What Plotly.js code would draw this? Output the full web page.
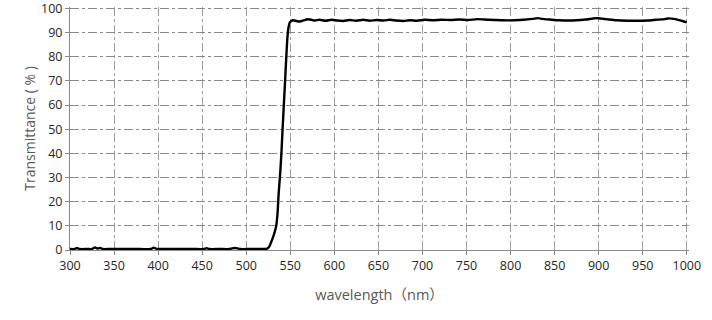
<!DOCTYPE html>
<html>
<head>
<meta charset="utf-8">
<script src="https://cdn.plot.ly/plotly-3.0.1.min.js"></script>
<style>html,body{margin:0;padding:0;background:#fff;}#chart{width:712px;height:320px;}</style>
</head>
<body>
<div id="chart"></div>
<script>
// wavelength (nm)
const wavelength = [300,305,308,311,320,325,327,329,331,333,335,337,345,360,380,392,395,398,402,420,440,452,455,458,470,481,484,487,490,493,505,515,520,523.7,526,529.3,531.5,533.9,535.5,536.8,538.5,539.9,541.2,542.5,543.9,545.2,546.7,548.2,549.5,551.2,553,555.8,559,562,566,570,574,578,583,590,597,603,610,617,625,633,640,648,656,663,670,678,686,694,702,712,722,732,742,752,762,775,790,805,815,825,831,836,845,855,865,875,885,893,898,903,910,920,933,945,955,965,975,980,985,990,995,1000];
// transmittance (%)
const transmittance = [0.4,0.4,0.8,0.4,0.4,0.4,0.9,1.0,0.6,0.8,0.8,0.4,0.4,0.4,0.4,0.4,1.0,0.5,0.4,0.4,0.4,0.4,0.7,0.4,0.4,0.4,0.7,0.8,0.7,0.4,0.4,0.4,0.4,0.6,1.3,4.2,6.5,9.7,15,23.4,31.5,39.9,49.5,58.9,68.5,78.1,87.7,92.5,94.2,94.8,95.1,94.9,94.6,94.7,95.2,95.5,95.3,95.0,95.3,94.9,95.3,95.0,94.8,95.2,94.9,95.3,94.9,95.2,95.0,95.3,95.0,94.8,95.1,94.9,95.3,95.1,95.3,95.2,95.4,95.2,95.6,95.3,95.1,95.1,95.3,95.7,96.0,95.7,95.4,95.1,95.0,95.1,95.4,95.8,96.0,95.8,95.5,95.1,94.9,94.9,95.0,95.3,95.6,95.9,95.7,95.3,94.8,94.2];

const xTicks = [300,350,400,450,500,550,600,650,700,750,800,850,900,950,1000];
const yTicks = [0,10,20,30,40,50,60,70,80,90,100];

const trace = {
  x: wavelength,
  y: transmittance,
  type: 'scatter',
  mode: 'lines',
  line: {color: '#000000', width: 2.4, shape: 'spline', smoothing: 0.5},
  hoverinfo: 'skip',
  cliponaxis: false
};

const font = 'Open Sans, Noto Sans, Noto Sans CJK SC, sans-serif';
const gridColor = '#8a8a8a';

const layout = {
  width: 712, height: 320,
  margin: {l: 70, r: 23, t: 7, b: 70},
  paper_bgcolor: '#ffffff',
  plot_bgcolor: '#ffffff',
  showlegend: false,
  font: {family: font, color: '#262626'},
  xaxis: {
    range: [300, 1002.5],
    tickvals: xTicks,
    ticktext: xTicks.map(String),
    showgrid: true, gridcolor: '#9a9a9a', griddash: 'dashdot', gridwidth: 1,
    showline: true, linecolor: '#8a8a8a', linewidth: 1,
    ticks: 'outside', ticklen: 4, tickcolor: '#8a8a8a',
    zeroline: false,
    ticklabeloverflow: 'allow',
    tickfont: {size: 12.5, color: '#262626', family: font},
    title: {text: 'wavelength（nm）', font: {size: 14.5, color: '#595959', family: font}, standoff: 16}
  },
  yaxis: {
    range: [0, 100.6],
    tickvals: yTicks,
    ticktext: yTicks.map(String),
    showgrid: true, gridcolor: gridColor, griddash: 'dashdot', gridwidth: 1,
    showline: true, linecolor: '#8a8a8a', linewidth: 1,
    ticks: 'outside', ticklen: 4, tickcolor: '#8a8a8a',
    zeroline: false,
    ticklabeloverflow: 'allow',
    tickfont: {size: 12.5, color: '#262626', family: font},
    title: {text: 'Transmittance ( % )', font: {size: 14, color: '#595959', family: font}, standoff: 2}
  }
};

Plotly.newPlot('chart', [trace], layout, {staticPlot: true, displayModeBar: false});
</script>
</body>
</html>
